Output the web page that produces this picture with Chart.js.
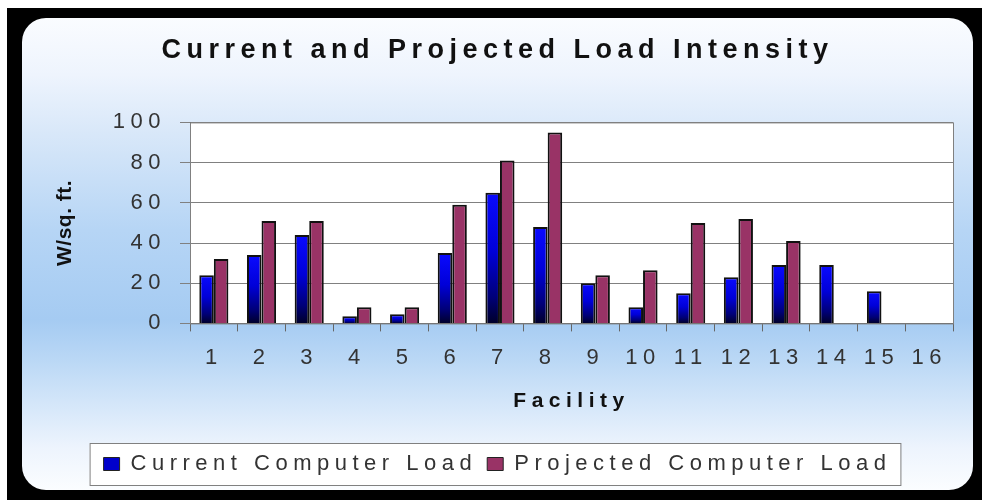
<!DOCTYPE html>
<html>
<head>
<meta charset="utf-8">
<script src="https://cdn.jsdelivr.net/npm/chart.js@4/dist/chart.umd.min.js"></script>
<style>
  body{margin:0;background:#fff;overflow:hidden;}
  #frame{position:absolute;left:7px;top:8px;width:975px;height:492px;background:#000;}
  #panel{position:absolute;left:22px;top:18px;width:951px;height:472px;border-radius:24px;
    background:linear-gradient(to bottom,#fafcff 0%,#eef4fd 12%,#d9e8f9 24%,#b6d5f5 45%,#a5cbf2 64%,#b9d7f5 72%,#d2e5f9 81%,#edf4fd 91%,#fbfdff 100%);}
  #financeChart{position:absolute;left:0;top:0;}
</style>
</head>
<body>
<div id="frame"></div>
<div id="panel"></div>
<canvas id="financeChart" width="982" height="500"></canvas>
<script>
// Data dari gambar
const facilities = ["1","2","3","4","5","6","7","8","9","10","11","12","13","14","15","16"];
const currentLoad = [24, 34, 44, 3.5, 4.5, 35, 65, 48, 20, 8, 15, 23, 29, 29, 16, null];
const projectedLoad = [32, 51, 51, 8, 8, 59, 81, 95, 24, 26.5, 50, 52, 41, null, null, null];
const yTicks = [0, 20, 40, 60, 80, 100];

const chartTitle = "Current and Projected Load Intensity";
const xTitle = "Facility";
const yTitle = "W/sq. ft.";
const seriesNames = ["Current Computer Load", "Projected Computer Load"];

const ctx = document.getElementById("financeChart");
const font = "'Liberation Sans', Arial, sans-serif";

// Gradient biru per batang
function blueBar(c){
    const chart = c.chart;
    if(!chart.chartArea || c.type !== "data" || c.raw == null) return "#0000cc";
    const y = chart.scales.y;
    const top = y.getPixelForValue(c.raw);
    const base = y.getPixelForValue(0);
    const g = chart.ctx.createLinearGradient(0, top, 0, base);
    g.addColorStop(0, "#0a0aff");
    g.addColorStop(0.45, "#0000d8");
    g.addColorStop(0.8, "#000078");
    g.addColorStop(1, "#00002a");
    return g;
}

// Jarak huruf, kotak plot dan kotak legenda
const frames = {
    id: "frames",
    beforeUpdate(chart){ chart.ctx.letterSpacing = "5.5px"; },
    beforeLayout(chart){ chart.ctx.letterSpacing = "5.5px"; },
    afterLayout(chart){
        const s = chart.scales.y;
        if(s && !s._wrapped){
            const orig = s.drawTitle;
            s.drawTitle = function(){
                const c = this.ctx;
                const old = c.letterSpacing;
                c.letterSpacing = "0.5px";
                orig.apply(this, arguments);
                c.letterSpacing = old;
            };
            s._wrapped = true;
        }
    },
    beforeDraw(chart){
        const c = chart.ctx;
        c.letterSpacing = "5.5px";
        const a = chart.chartArea;
        c.save();
        c.fillStyle = "#ffffff";
        c.fillRect(a.left, a.top, a.right - a.left, a.bottom - a.top);
        const lg = chart.legend;
        const hb = lg.legendHitBoxes;
        if(hb && hb.length){
            const last = hb[hb.length - 1];
            const x0 = hb[0].left - 14;
            const x1 = last.left + last.width + 9;
            c.fillStyle = "#ffffff";
            c.fillRect(x0, lg.top, x1 - x0, lg.bottom - lg.top);
            c.strokeStyle = "#808080";
            c.lineWidth = 1;
            c.strokeRect(x0 + 0.5, lg.top + 0.5, x1 - x0, lg.bottom - lg.top);
        }
        c.restore();
    },
    beforeDatasetsDraw(chart){
        const c = chart.ctx;
        const a = chart.chartArea;
        c.save();
        c.strokeStyle = "#808080";
        c.lineWidth = 1;
        c.strokeRect(a.left + 0.5, a.top + 0.5, a.right - a.left, a.bottom - a.top);
        c.restore();
    }
};

const chart = new Chart(ctx, {
    type: "bar",
    data: {
        labels: facilities,
        datasets: [
            {
                label: seriesNames[0],
                data: currentLoad,
                backgroundColor: blueBar,
                borderColor: "#111111",
                borderWidth: 2,
                barPercentage: 1,
                categoryPercentage: 0.61
            },
            {
                label: seriesNames[1],
                data: projectedLoad,
                backgroundColor: "#993366",
                borderColor: "#111111",
                borderWidth: 2,
                barPercentage: 1,
                categoryPercentage: 0.61
            }
        ]
    },
    options: {
        responsive: false,
        animation: false,
        layout: { padding: { left: 22, right: 9, top: 18, bottom: 15 } },
        plugins: {
            title: {
                display: true,
                text: chartTitle,
                color: "#111111",
                font: { family: font, size: 27, weight: "bold" },
                padding: { top: 16, bottom: 56 }
            },
            legend: {
                position: "bottom",
                labels: {
                    color: "#333333",
                    font: { family: font, size: 22 },
                    boxWidth: 16,
                    boxHeight: 13,
                    padding: 10,
                    generateLabels(chart){
                        const items = Chart.defaults.plugins.legend.labels.generateLabels(chart);
                        const fills = ["#0000cc", "#993366"];
                        items.forEach((it, i) => {
                            it.fillStyle = fills[i];
                            it.strokeStyle = "#222222";
                            it.lineWidth = 1;
                        });
                        return items;
                    }
                }
            },
            tooltip: { enabled: false }
        },
        scales: {
            x: {
                type: "category",
                grid: { offset: true, drawOnChartArea: false, tickLength: 8, color: "#666666" },
                border: { color: "#666666" },
                ticks: { color: "#333333", font: { family: font, size: 22 }, padding: 13, maxRotation: 0, autoSkip: false },
                title: {
                    display: true,
                    text: xTitle,
                    color: "#111111",
                    font: { family: font, size: 21, weight: "bold" },
                    padding: { top: 5, bottom: 29 }
                }
            },
            y: {
                min: 0,
                max: 100,
                afterBuildTicks(scale){
                    scale.ticks = yTicks.map(v => ({ value: v }));
                },
                afterFit(scale){
                    scale.width = 168;
                },
                grid: { color: "#808080", tickLength: 10 },
                border: { color: "#666666" },
                ticks: { color: "#333333", font: { family: font, size: 22 }, padding: 14 },
                title: {
                    display: true,
                    text: yTitle,
                    color: "#111111",
                    font: { family: font, size: 21, weight: "bold" },
                    padding: { top: 31, bottom: 0 }
                }
            },
            // sumbu kanan kosong, hanya untuk memberi jarak di kanan plot
            y2: {
                position: "right",
                grid: { display: false },
                border: { display: false },
                ticks: { display: false },
                afterFit(scale){
                    scale.width = 20;
                }
            }
        }
    },
    plugins: [frames]
});
</script>
</body>
</html>
